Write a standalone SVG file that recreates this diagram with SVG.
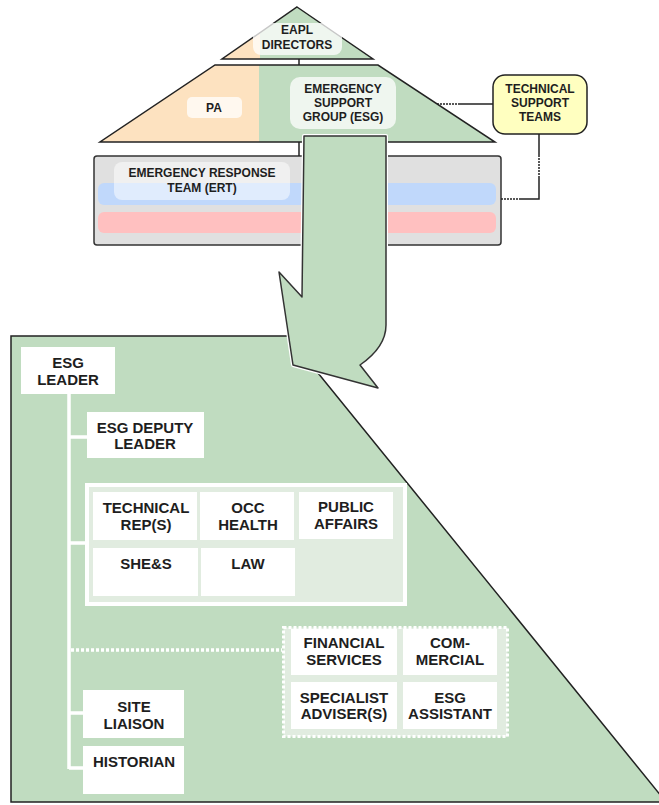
<svg xmlns="http://www.w3.org/2000/svg" width="659" height="805" viewBox="0 0 659 805">
<style>
.t{font-family:"Liberation Sans",Arial,sans-serif;font-weight:bold;fill:#1e1e1e;text-anchor:middle}
.s{font-size:12px}
.l{font-size:15px}
.edge{fill:none;stroke:#222;stroke-width:1.5}
.lab{fill:#fff;fill-opacity:0.75}
.box{fill:#fff}
.tree{fill:none;stroke:#fff;stroke-width:3.5}
.dot{fill:none;stroke:#222;stroke-width:1.5;stroke-dasharray:2 1}
</style>
<rect width="659" height="805" fill="#fff"/>

<g id="eapl-directors">
  <polygon points="297,7 260,33 260,59 222,59" fill="#fde2c0"/>
  <polygon points="297,7 373,59 260,59 260,33" fill="#c0dcc0"/>
  <polygon points="297,7 373,59 222,59" fill="none" stroke="#222" stroke-width="1.5"/>
  <rect class="lab" x="253" y="23" width="89" height="32" rx="8"/>
  <text class="t s" x="297" y="34">EAPL</text>
  <text class="t s" x="297" y="49">DIRECTORS</text>
</g>

<g id="management">
  <polygon points="215,65 259,65 259,142 100,142" fill="#fde2c0"/>
  <polygon points="259,65 378,65 495,142 259,142" fill="#c0dcc0"/>
  <polygon points="215,65 378,65 495,142 100,142" class="edge"/>
  <g id="pa">
    <rect class="lab" x="187" y="97" width="55" height="21" rx="5"/>
    <text class="t s" x="214" y="112">PA</text>
  </g>
  <g id="esg">
    <rect class="lab" x="290" y="77" width="106" height="52" rx="10"/>
    <text class="t s" x="343" y="93">EMERGENCY</text>
    <text class="t s" x="343" y="107">SUPPORT</text>
    <text class="t s" x="343" y="121">GROUP (ESG)</text>
  </g>
</g>

<g id="technical-support-teams">
  <rect x="493" y="75" width="94" height="59" rx="12" fill="#ffffc0" stroke="#222" stroke-width="1.5"/>
  <text class="t s" x="540" y="93">TECHNICAL</text>
  <text class="t s" x="540" y="107">SUPPORT</text>
  <text class="t s" x="540" y="121">TEAMS</text>
</g>

<g id="ert">
  <rect x="94" y="156" width="407" height="89" rx="3" fill="#e0e0e0" stroke="#333" stroke-width="1.5"/>
  <rect x="98" y="183" width="398" height="22" rx="6" fill="#c0d8fb"/>
  <rect x="98" y="212" width="398" height="21" rx="6" fill="#ffc0c0"/>
  <rect x="114" y="162" width="176" height="38" rx="8" fill="#fff" fill-opacity="0.5"/>
  <text class="t s" x="202" y="177">EMERGENCY RESPONSE</text>
  <text class="t s" x="202" y="192">TEAM (ERT)</text>
</g>

<g id="connectors-top">
  <line x1="299" y1="59" x2="299" y2="65" stroke="#222" stroke-width="1.5"/>
  <line x1="299" y1="142" x2="299" y2="156" stroke="#222" stroke-width="1.5"/>
  <line x1="437" y1="104" x2="458" y2="104" class="dot"/>
  <line x1="458" y1="104" x2="493" y2="104" stroke="#222" stroke-width="1.5"/>
  <polyline points="539,134 539,155" fill="none" stroke="#222" stroke-width="1.5"/>
  <line x1="539" y1="155" x2="539" y2="178" class="dot"/>
  <polyline points="539,178 539,199 521,199" fill="none" stroke="#222" stroke-width="1.5"/>
  <line x1="521" y1="199" x2="501" y2="199" class="dot"/>
</g>

<g id="esg-detail">
  <polygon points="11,336 288,336 666,802 11,802" fill="#c0dcc0" stroke="#222" stroke-width="1.5"/>
</g>

<g id="zoom-arrow">
  <path d="M304,136 L386,136 L386,325 Q386,347 360,365 L378,388 L293,365 L279,272 L302,297 Z" fill="none" stroke="#fff" stroke-width="4" stroke-linejoin="round"/>
  <path d="M304,136 L386,136 L386,325 Q386,347 360,365 L378,388 L293,365 L279,272 L302,297 Z" fill="#c0dcc0" stroke="#333" stroke-width="1.5" stroke-linejoin="round"/>
</g>

<g id="connectors-tree">
  <path class="tree" d="M69,394 V769 M69,437 H87 M69,543 H85 M69,713 H83 M69,768 H83"/>
  <line x1="71" y1="650" x2="282" y2="650" stroke="#fff" stroke-width="3.5" stroke-dasharray="3 2"/>
</g>

<g id="esg-leader">
  <rect class="box" x="21" y="347" width="94" height="47"/>
  <text class="t l" x="68" y="368">ESG</text>
  <text class="t l" x="68" y="385">LEADER</text>
</g>
<g id="esg-deputy-leader">
  <rect class="box" x="87" y="412" width="117" height="46"/>
  <text class="t l" x="145" y="433">ESG DEPUTY</text>
  <text class="t l" x="145" y="449">LEADER</text>
</g>

<g id="core-group">
  <rect x="87" y="485" width="318" height="119" fill="#e1ece0" stroke="#fff" stroke-width="4"/>
  <g id="technical-reps">
    <rect class="box" x="93" y="492" width="104" height="48"/>
    <text class="t l" x="146" y="513">TECHNICAL</text>
    <text class="t l" x="146" y="530">REP(S)</text>
  </g>
  <g id="occ-health">
    <rect class="box" x="200" y="492" width="94" height="48"/>
    <text class="t l" x="248" y="513">OCC</text>
    <text class="t l" x="248" y="530">HEALTH</text>
  </g>
  <g id="public-affairs">
    <rect class="box" x="299" y="492" width="94" height="47"/>
    <text class="t l" x="346" y="512">PUBLIC</text>
    <text class="t l" x="346" y="529">AFFAIRS</text>
  </g>
  <g id="shes">
    <rect class="box" x="93" y="548" width="105" height="48"/>
    <text class="t l" x="146" y="569">SHE&amp;S</text>
  </g>
  <g id="law">
    <rect class="box" x="201" y="548" width="94" height="48"/>
    <text class="t l" x="248" y="569">LAW</text>
  </g>
</g>

<g id="support-group">
  <rect x="283.5" y="627.5" width="224" height="109" fill="#e1ece0" stroke="#fff" stroke-width="3" stroke-dasharray="3 2"/>
  <g id="financial-services">
    <rect class="box" x="291" y="629" width="106" height="46"/>
    <text class="t l" x="344" y="648">FINANCIAL</text>
    <text class="t l" x="344" y="665">SERVICES</text>
  </g>
  <g id="commercial">
    <rect class="box" x="403" y="629" width="94" height="46"/>
    <text class="t l" x="450" y="648">COM-</text>
    <text class="t l" x="450" y="665">MERCIAL</text>
  </g>
  <g id="specialist-advisers">
    <rect class="box" x="291" y="682" width="106" height="47"/>
    <text class="t l" x="344" y="703">SPECIALIST</text>
    <text class="t l" x="344" y="719">ADVISER(S)</text>
  </g>
  <g id="esg-assistant">
    <rect class="box" x="403" y="682" width="94" height="47"/>
    <text class="t l" x="450" y="703">ESG</text>
    <text class="t l" x="450" y="719">ASSISTANT</text>
  </g>
</g>

<g id="site-liaison">
  <rect class="box" x="83" y="690" width="101" height="48"/>
  <text class="t l" x="134" y="712">SITE</text>
  <text class="t l" x="134" y="729">LIAISON</text>
</g>
<g id="historian">
  <rect class="box" x="83" y="746" width="101" height="48"/>
  <text class="t l" x="134" y="767">HISTORIAN</text>
</g>
</svg>
